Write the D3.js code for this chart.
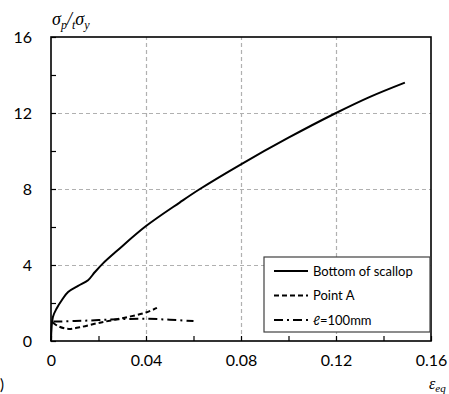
<!DOCTYPE html>
<html>
<head>
<meta charset="utf-8">
<script src="https://cdn.jsdelivr.net/npm/d3@7"></script>
<style>
	body { margin: 0; background: #fff; }
	svg { display: block; }
	.tick text { font-family: Lato, "Open Sans", sans-serif; font-size: 16px; fill: #000; }
	.math { font-family: "Liberation Serif", "DejaVu Serif", serif; font-style: italic; }
</style>
</head>
<body>
<div id="chart"></div>
<script>
	// Data
	let scallopX = [0, 0.0008, 0.0025, 0.0046, 0.0072, 0.0114, 0.0156, 0.0185, 0.022, 0.0278, 0.04, 0.0543, 0.0627, 0.08, 0.1, 0.12, 0.1343, 0.149];
	let scallopY = [0, 1.26, 1.74, 2.16, 2.58, 2.9, 3.2, 3.63, 4.1, 4.75, 6.05, 7.3, 8.0, 9.3, 10.7, 12.0, 12.85, 13.6];
	let pointAX = [0.0008, 0.003, 0.007, 0.012, 0.02, 0.03, 0.04, 0.0446];
	let pointAY = [0.98, 0.78, 0.64, 0.72, 0.95, 1.2, 1.5, 1.74];
	let ellX = [0.001, 0.01, 0.02, 0.03, 0.04, 0.05, 0.06];
	let ellY = [1.02, 1.05, 1.1, 1.15, 1.17, 1.12, 1.05];
	let seriesNames = ["Bottom of scallop", "Point A", "\u2113=100mm"];
	let xTicks = [0, 0.04, 0.08, 0.12, 0.16];
	let yTicks = [0, 4, 8, 12, 16];

	let width = 449;
	let height = 394;
	let margin = { top: 37, right: 18, bottom: 53, left: 51 };
	let chartW = width - margin.left - margin.right;
	let chartH = height - margin.top - margin.bottom;

	let svg = d3.select("#chart").append("svg").attr("width", width).attr("height", height);
	let chart = svg.append("g").attr("transform", "translate(" + margin.left + "," + margin.top + ")");

	let xScale = d3.scaleLinear().domain([0, 0.16]).range([0, chartW]);
	let yScale = d3.scaleLinear().domain([0, 16]).range([chartH, 0]);

	// Grid lines
	chart.append("g").attr("transform", "translate(0," + chartH + ")")
		.call(d3.axisBottom(xScale).tickValues(xTicks.slice(1, -1)).tickSize(-chartH).tickFormat(""))
		.call(g => g.select(".domain").remove())
		.selectAll("line").attr("stroke", "#b0b0b0").attr("stroke-width", 1.2).attr("stroke-dasharray", "4,3");
	chart.append("g")
		.call(d3.axisLeft(yScale).tickValues(yTicks.slice(1, -1)).tickSize(-chartW).tickFormat(""))
		.call(g => g.select(".domain").remove())
		.selectAll("line").attr("stroke", "#b0b0b0").attr("stroke-width", 1.2).attr("stroke-dasharray", "4,3");

	// Inward ticks
	chart.append("g").attr("transform", "translate(0," + chartH + ")")
		.call(d3.axisBottom(xScale).tickValues(d3.range(0, 0.161, 0.02)).tickSizeInner(-5).tickSizeOuter(0).tickFormat(""))
		.call(g => g.select(".domain").remove())
		.selectAll("line").attr("stroke", "#000").attr("stroke-width", 1.2);
	chart.append("g")
		.call(d3.axisLeft(yScale).tickValues(d3.range(0, 16.1, 2)).tickSizeInner(-5).tickSizeOuter(0).tickFormat(""))
		.call(g => g.select(".domain").remove())
		.selectAll("line").attr("stroke", "#000").attr("stroke-width", 1.2);

	// Tick labels
	chart.append("g").attr("transform", "translate(0," + chartH + ")")
		.call(d3.axisBottom(xScale).tickValues(xTicks).tickSize(0).tickPadding(14).tickFormat(d => d === 0 ? "0" : d3.format(".2f")(d)))
		.call(g => g.select(".domain").remove());
	chart.append("g")
		.call(d3.axisLeft(yScale).tickValues(yTicks).tickSize(0).tickPadding(19).tickFormat(d3.format("d")))
		.call(g => g.select(".domain").remove());

	// Frame
	chart.append("rect").attr("width", chartW).attr("height", chartH)
		.attr("fill", "none").attr("stroke", "#000").attr("stroke-width", 1.6);

	// Series
	let line = d3.line().x(d => xScale(d[0])).y(d => yScale(d[1])).curve(d3.curveCatmullRom.alpha(0.5));
	let series = [
		{ x: scallopX, y: scallopY, dash: null },
		{ x: pointAX, y: pointAY, dash: "5,3" },
		{ x: ellX, y: ellY, dash: "9,4,2,4" }
	];
	series.forEach(function(s) {
		chart.append("path").datum(d3.zip(s.x, s.y)).attr("d", line)
			.attr("fill", "none").attr("stroke", "#000").attr("stroke-width", 2)
			.attr("stroke-dasharray", s.dash);
	});

	// Legend
	let legend = svg.append("g").attr("transform", "translate(264,257)");
	legend.append("rect").attr("width", 166).attr("height", 75)
		.attr("fill", "#fff").attr("stroke", "#404040").attr("stroke-width", 1.2);
	series.forEach(function(s, i) {
		let yy = 14 + i * 24.5;
		legend.append("line").attr("x1", 10).attr("x2", 44).attr("y1", yy).attr("y2", yy)
			.attr("stroke", "#000").attr("stroke-width", 2).attr("stroke-dasharray", s.dash);
		legend.append("text").attr("x", 49).attr("y", yy + 4.5).text(seriesNames[i])
			.style("font-family", "Lato, 'Open Sans', sans-serif").style("font-size", "13px");
	});

	// Axis titles
	let yTitle = svg.append("text").attr("class", "math").attr("x", 52).attr("y", 25).style("font-size", "18px");
	yTitle.append("tspan").text("\u03c3");
	yTitle.append("tspan").attr("dy", 4).style("font-size", "12px").text("p");
	yTitle.append("tspan").attr("dy", -4).text("/");
	yTitle.append("tspan").attr("dy", 4).style("font-size", "12px").text("t");
	yTitle.append("tspan").attr("dy", -4).text("\u03c3");
	yTitle.append("tspan").attr("dy", 4).style("font-size", "12px").text("y");

	let xTitle = svg.append("text").attr("class", "math").attr("x", 429).attr("y", 389).style("font-size", "16px");
	xTitle.append("tspan").text("\u03b5");
	xTitle.append("tspan").attr("dy", 3).style("font-size", "11px").text("eq");

	svg.append("text").attr("x", 0).attr("y", 390).text(")")
		.style("font-family", "Lato, sans-serif").style("font-size", "15px");
</script>
</body>
</html>
